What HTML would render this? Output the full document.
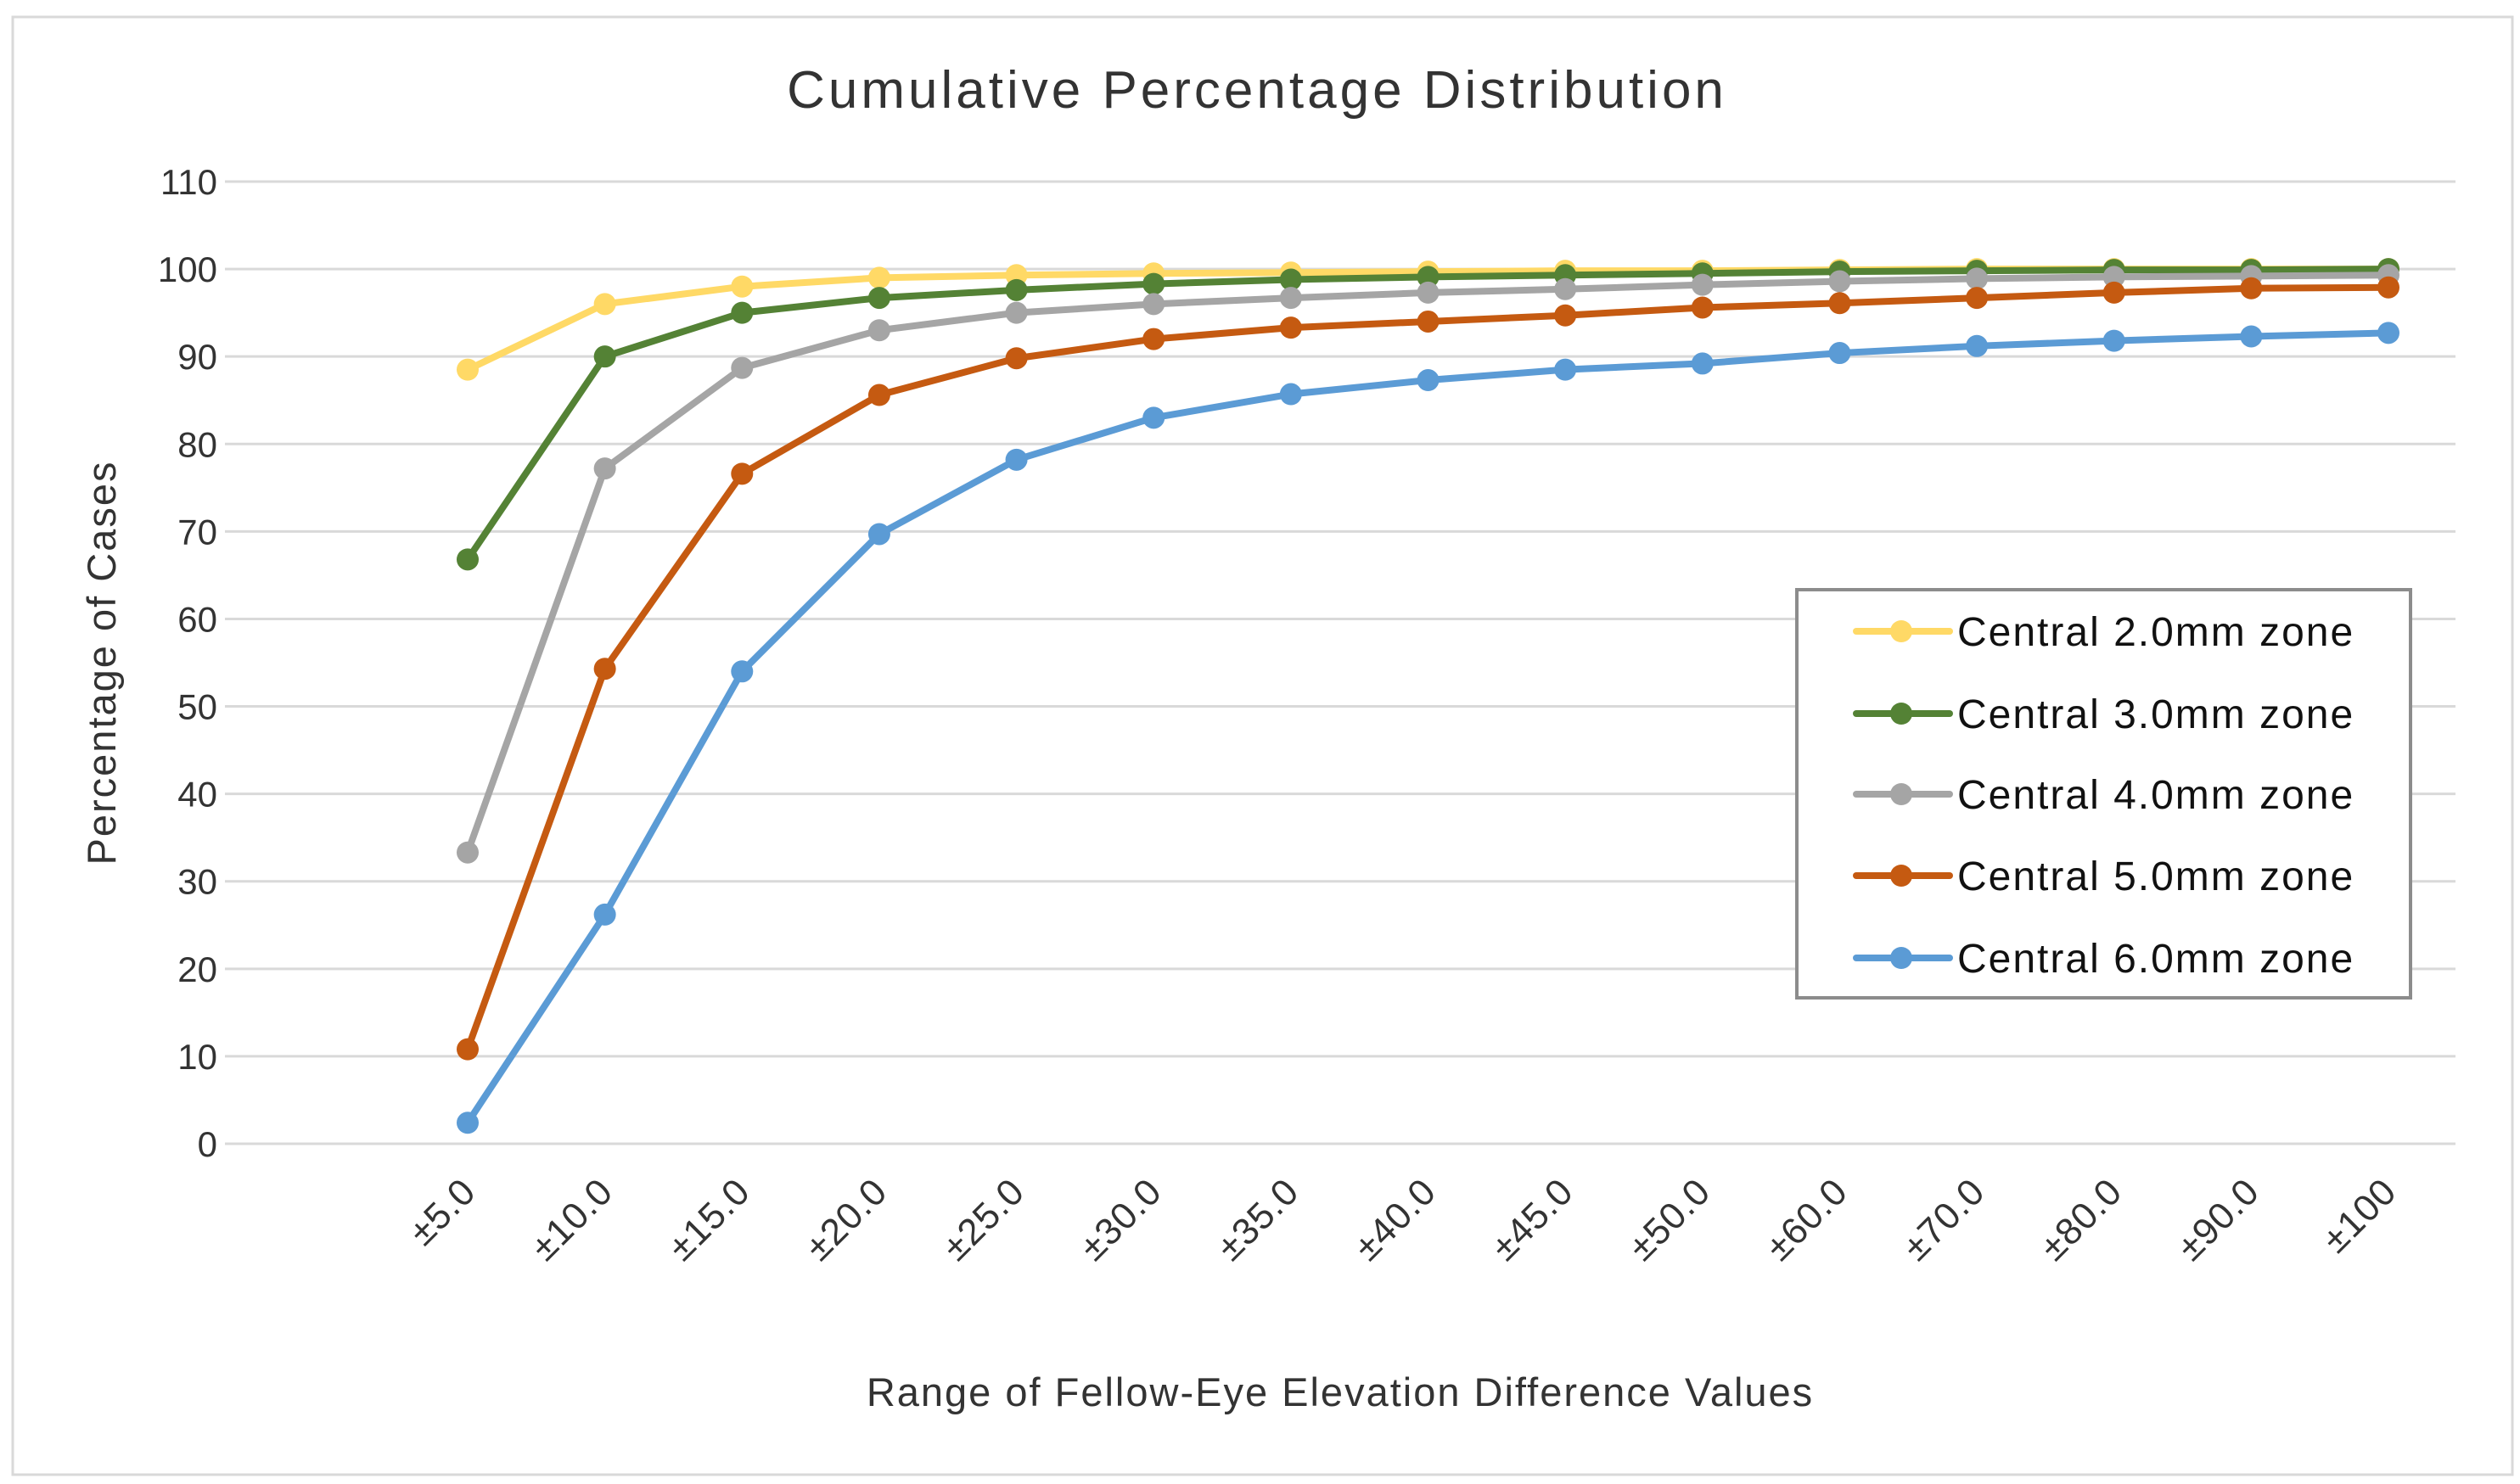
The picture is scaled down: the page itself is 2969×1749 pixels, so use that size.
<!DOCTYPE html>
<html><head><meta charset="utf-8"><style>
html,body{margin:0;padding:0;background:#fff;}
svg{display:block;font-family:"Liberation Sans",sans-serif;}
</style></head><body>
<svg id="chart" width="2969" height="1749" viewBox="0 0 2969 1749" xmlns="http://www.w3.org/2000/svg">
<rect x="15" y="20" width="2945" height="1718" fill="#fff" stroke="#d9d9d9" stroke-width="3"/>
<text x="1481" y="127" font-size="62" letter-spacing="4" text-anchor="middle" fill="#333">Cumulative Percentage Distribution</text>
<g id="grid"></g><g id="yticks"></g><g id="xticks"></g><g id="series"></g>
<text x="1579" y="1657" font-size="47" letter-spacing="2" text-anchor="middle" fill="#333">Range of Fellow-Eye Elevation Difference Values</text>
<text transform="translate(136,781) rotate(-90)" font-size="47" letter-spacing="2" text-anchor="middle" fill="#333">Percentage of Cases</text>
<g id="legend"></g>
</svg>
<script>
const categories=["±5.0","±10.0","±15.0","±20.0","±25.0","±30.0","±35.0","±40.0","±45.0","±50.0","±60.0","±70.0","±80.0","±90.0","±100"];
const seriesNames=["Central 2.0mm zone","Central 3.0mm zone","Central 4.0mm zone","Central 5.0mm zone","Central 6.0mm zone"];
const zone2=[88.5,96,98,99,99.3,99.5,99.6,99.7,99.8,99.8,99.9,100,100,100,100];
const zone3=[66.8,90,95,96.7,97.6,98.3,98.8,99.1,99.3,99.5,99.7,99.8,99.9,99.9,100];
const zone4=[33.3,77.2,88.7,93,95,96,96.7,97.3,97.7,98.2,98.6,98.9,99.1,99.2,99.3];
const zone5=[10.8,54.3,76.6,85.6,89.8,92,93.3,94,94.7,95.6,96.1,96.7,97.3,97.8,97.9];
const zone6=[2.4,26.2,54,69.7,78.2,83,85.7,87.3,88.5,89.2,90.4,91.2,91.8,92.3,92.7];
const yTicks=[0,10,20,30,40,50,60,70,80,90,100,110];
const colors=["#FFD966","#548235","#A5A5A5","#C55A11","#5B9BD5"];
const allSeries=[zone2,zone3,zone4,zone5,zone6];
const NS="http://www.w3.org/2000/svg";
const yScale=v=>1348-(v/110)*(1348-214);
const xScale=i=>551+i*(2814-551)/(categories.length-1);
function mk(tag,attrs,parent,txt){const e=document.createElementNS(NS,tag);for(const k in attrs)e.setAttribute(k,attrs[k]);if(txt!==undefined)e.textContent=txt;parent.appendChild(e);return e;}
const grid=document.getElementById('grid'),yt=document.getElementById('yticks'),xt=document.getElementById('xticks'),sg=document.getElementById('series'),lg=document.getElementById('legend');
yTicks.forEach(v=>{
 const l=mk('line',{x1:265,x2:2893,y1:yScale(v),y2:yScale(v),stroke:'#d9d9d9','stroke-width':3},grid);
 
 
 const t=mk('text',{x:256,y:yScale(v)+15,'font-size':42,'text-anchor':'end',fill:'#333'},yt,String(v));
 
 
});
categories.forEach((c,i)=>{
 const x=xScale(i)+12,y=1407;
 const t=mk('text',{x:x,y:y,'font-size':44,'letter-spacing':1,'text-anchor':'end',fill:'#333',transform:`rotate(-45 ${x} ${y})`},xt,c);
 
 
});
allSeries.forEach((data,s)=>{
 const g=mk('g',{},sg);
 
 
 const pts=data.map((v,i)=>xScale(i)+','+yScale(v)).join(' ');
 const pl=mk('polyline',{points:pts,fill:'none',stroke:colors[s],'stroke-width':8,'stroke-linejoin':'round'},g);
 
 
 data.forEach((v,i)=>{
  const c=mk('circle',{cx:xScale(i),cy:yScale(v),r:13,fill:colors[s]},g);
  
  
 });
});
const lb=mk('rect',{x:2117,y:695,width:723,height:481,fill:'#fff',stroke:'#8c8c8c','stroke-width':4},lg);


const legY=[744,841,936,1032,1129];
seriesNames.forEach((n,s)=>{
 const g=mk('g',{},lg);
 
 
 mk('line',{x1:2187,x2:2297,y1:legY[s],y2:legY[s],stroke:colors[s],'stroke-width':8,'stroke-linecap':'round'},g);
 mk('circle',{cx:2240,cy:legY[s],r:13,fill:colors[s]},g);
 mk('text',{x:2306,y:legY[s]+17,'font-size':48,'letter-spacing':2,fill:'#111'},g,n);
});
</script>
</body></html>
